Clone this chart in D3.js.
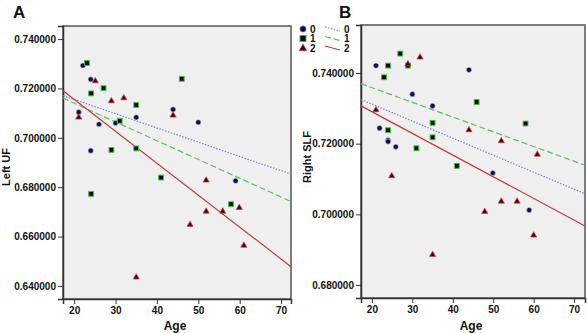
<!DOCTYPE html>
<html lang="en">
<head>
  <meta charset="UTF-8">
  <title>Age vs UF / SLF</title>
  <script src="https://d3js.org/d3.v7.min.js"></script>
  <style>
    body, html {
      margin: 0;
      padding: 0;
      background: #fff;
    }
    svg {
      display: block;
      font-family: "Liberation Sans", Arial, sans-serif;
    }
    .tick text {
      font-size: 10px;
      font-weight: bold;
      fill: #111;
    }
    .axis-title {
      font-size: 12px;
      font-weight: bold;
      fill: #111;
    }
    .y-title {
      font-size: 11px;
    }
    .panel-label {
      font-size: 17px;
      font-weight: bold;
      fill: #111;
    }
    .legend text {
      font-size: 10px;
      font-weight: bold;
      fill: #111;
    }
  </style>
</head>
<body>
  <svg width="587" height="333"></svg>

  <script>
    const groups = ["0", "1", "2"];

    // Panel A: Left UF by age
    const ageA0 = [22.1, 24.0, 21.1, 26.0, 30.0, 35.0, 24.0, 43.9, 50.0, 59.0];
    const ufA0  = [0.7293, 0.7237, 0.7104, 0.7055, 0.7060, 0.7083, 0.6948, 0.7115, 0.7063, 0.6826];
    const ageA1 = [23.1, 24.1, 27.1, 31.0, 35.0, 29.0, 35.0, 46.0, 24.1, 41.0, 57.9];
    const ufA1  = [0.7303, 0.7180, 0.7201, 0.7069, 0.7133, 0.6951, 0.6957, 0.7239, 0.6773, 0.6839, 0.6731];
    const ageA2 = [25.1, 21.1, 29.0, 32.0, 43.9, 51.9, 51.9, 55.9, 59.9, 48.0, 61.0, 35.0];
    const ufA2  = [0.7232, 0.7085, 0.7151, 0.7163, 0.7093, 0.6830, 0.6704, 0.6704, 0.6719, 0.6650, 0.6566, 0.6437];
    // fit line values at left / right edge of the age range
    const fitA = [[0.7171, 0.6853], [0.7161, 0.6742], [0.7191, 0.6478]];

    // Panel B: Right SLF by age
    const ageB0 = [21.0, 30.0, 35.0, 44.0, 21.9, 24.0, 24.0, 25.9, 49.9, 58.9];
    const slfB0 = [0.7421, 0.7340, 0.7307, 0.7409, 0.7244, 0.7210, 0.7206, 0.7191, 0.7117, 0.7012];
    const ageB1 = [27.0, 24.0, 28.9, 23.0, 45.9, 35.0, 58.0, 24.0, 35.0, 31.0, 41.0];
    const slfB1 = [0.7455, 0.7421, 0.7421, 0.7388, 0.7318, 0.7259, 0.7257, 0.7238, 0.7218, 0.7187, 0.7137];
    const ageB2 = [31.9, 28.9, 21.0, 44.0, 52.0, 60.9, 24.9, 35.0, 47.9, 52.0, 55.9, 60.0];
    const slfB2 = [0.7446, 0.7427, 0.7297, 0.7240, 0.7209, 0.7171, 0.7110, 0.6887, 0.7009, 0.7038, 0.7038, 0.6942];
    const fitB = [[0.7325, 0.7058], [0.7370, 0.7139], [0.7307, 0.6967]];

    const xTicks = [20, 30, 40, 50, 60, 70];
    const yTicksA = [0.64, 0.66, 0.68, 0.70, 0.72, 0.74];
    const yTicksB = [0.68, 0.70, 0.72, 0.74];

    const lineStyle = [
      { color: "#7a84d6", dash: "1.5,1.5" },
      { color: "#55c455", dash: "6,3" },
      { color: "#c23b3b", dash: null }
    ];

    const svg = d3.select("svg");

    function drawPanel(opt) {
      const x = d3.scaleLinear().domain(opt.xDomain).range([opt.left, opt.right]);
      const y = d3.scaleLinear().domain(opt.yDomain).range([opt.bottom, opt.top]);
      const g = svg.append("g");

      g.append("rect")
        .attr("x", opt.left).attr("y", opt.top)
        .attr("width", opt.right - opt.left)
        .attr("height", opt.bottom - opt.top)
        .attr("fill", "#efefef")
        .attr("stroke", "#555")
        .attr("stroke-width", 1.5);

      const xAxis = g.append("g")
        .attr("transform", `translate(0,${opt.bottom})`)
        .call(d3.axisBottom(x).tickValues(xTicks).tickSize(5).tickPadding(3));
      const yAxis = g.append("g")
        .attr("transform", `translate(${opt.left},0)`)
        .call(d3.axisLeft(y).tickValues(opt.yTicks).tickSize(5).tickPadding(2)
          .tickFormat(d3.format(".6f")));
      [xAxis, yAxis].forEach(a => {
        a.select(".domain").attr("stroke", "#333").attr("stroke-width", 1.5);
        a.selectAll(".tick line").attr("stroke", "#333");
      });

      // regression lines
      g.selectAll(".fit")
        .data(opt.fit)
        .enter().append("line")
        .attr("x1", x(opt.xDomain[0]))
        .attr("x2", x(opt.xDomain[1]))
        .attr("y1", d => y(d[0]))
        .attr("y2", d => y(d[1]))
        .attr("stroke", (d, i) => lineStyle[i].color)
        .attr("stroke-width", 1.2)
        .attr("stroke-dasharray", (d, i) => lineStyle[i].dash);

      opt.series.forEach((s, gi) => {
        const pts = s.ages.map((a, i) => [a, s.vals[i]]);
        drawMarkers(g, pts.map(p => [x(p[0]), y(p[1])]), gi, 1);
      });

      g.append("text")
        .attr("class", "axis-title")
        .attr("x", (opt.left + opt.right) / 2 - 2)
        .attr("y", 330)
        .attr("text-anchor", "middle")
        .text("Age");

      g.append("text")
        .attr("class", "axis-title y-title")
        .attr("transform", `translate(${opt.titleX},${opt.titleY}) rotate(-90)`)
        .attr("text-anchor", "middle")
        .text(opt.yTitle);

      g.append("text")
        .attr("class", "panel-label")
        .attr("x", opt.labelX)
        .attr("y", 18)
        .text(opt.label);
    }

    function drawMarkers(g, pts, gi, k) {
      if (gi === 0) {
        g.selectAll(null).data(pts).enter().append("circle")
          .attr("cx", d => d[0]).attr("cy", d => d[1]).attr("r", 2.6 * k)
          .attr("fill", "#0d0d4a").attr("stroke", "#c8cbe8").attr("stroke-width", 0.6);
      } else if (gi === 1) {
        const s = 4.8 * k;
        g.selectAll(null).data(pts).enter().append("rect")
          .attr("x", d => d[0] - s / 2).attr("y", d => d[1] - s / 2)
          .attr("width", s).attr("height", s)
          .attr("fill", "#050505").attr("stroke", "#3cc23c").attr("stroke-width", 1);
      } else {
        g.selectAll(null).data(pts).enter().append("path")
          .attr("d", d3.symbol(d3.symbolTriangle, 16 * k * k))
          .attr("transform", d => `translate(${d[0]},${d[1] + 0.5})`)
          .attr("fill", "#3a0505").attr("stroke", "#d04040").attr("stroke-width", 0.8);
      }
    }

    drawPanel({
      left: 63, right: 291, top: 26, bottom: 299,
      xDomain: [17.3, 72.4], yDomain: [0.6347, 0.7453],
      yTicks: yTicksA, fit: fitA,
      series: [
        { ages: ageA0, vals: ufA0 },
        { ages: ageA1, vals: ufA1 },
        { ages: ageA2, vals: ufA2 }
      ],
      yTitle: "Left UF", titleX: 10, titleY: 167,
      label: "A", labelX: 13
    });

    drawPanel({
      left: 361, right: 585, top: 25, bottom: 298,
      xDomain: [17.3, 72.7], yDomain: [0.6763, 0.7536],
      yTicks: yTicksB, fit: fitB,
      series: [
        { ages: ageB0, vals: slfB0 },
        { ages: ageB1, vals: slfB1 },
        { ages: ageB2, vals: slfB2 }
      ],
      yTitle: "Right SLF", titleX: 311, titleY: 157,
      label: "B", labelX: 339
    });

    // legend between the panels
    const legend = svg.append("g").attr("class", "legend");
    const rowY = [29, 38.5, 48];
    groups.forEach((gname, i) => {
      drawMarkers(legend, [[303, rowY[i]]], i, 1.25);
      legend.append("text")
        .attr("x", 310).attr("y", rowY[i] + 3.5)
        .text(gname);
      legend.append("line")
        .attr("x1", 325).attr("y1", rowY[i] - 2)
        .attr("x2", 340).attr("y2", rowY[i] + 2)
        .attr("stroke", lineStyle[i].color)
        .attr("stroke-width", 1.2)
        .attr("stroke-dasharray", lineStyle[i].dash);
      legend.append("text")
        .attr("x", 344).attr("y", rowY[i] + 3.5)
        .text(gname);
    });
  </script>
</body>
</html>
